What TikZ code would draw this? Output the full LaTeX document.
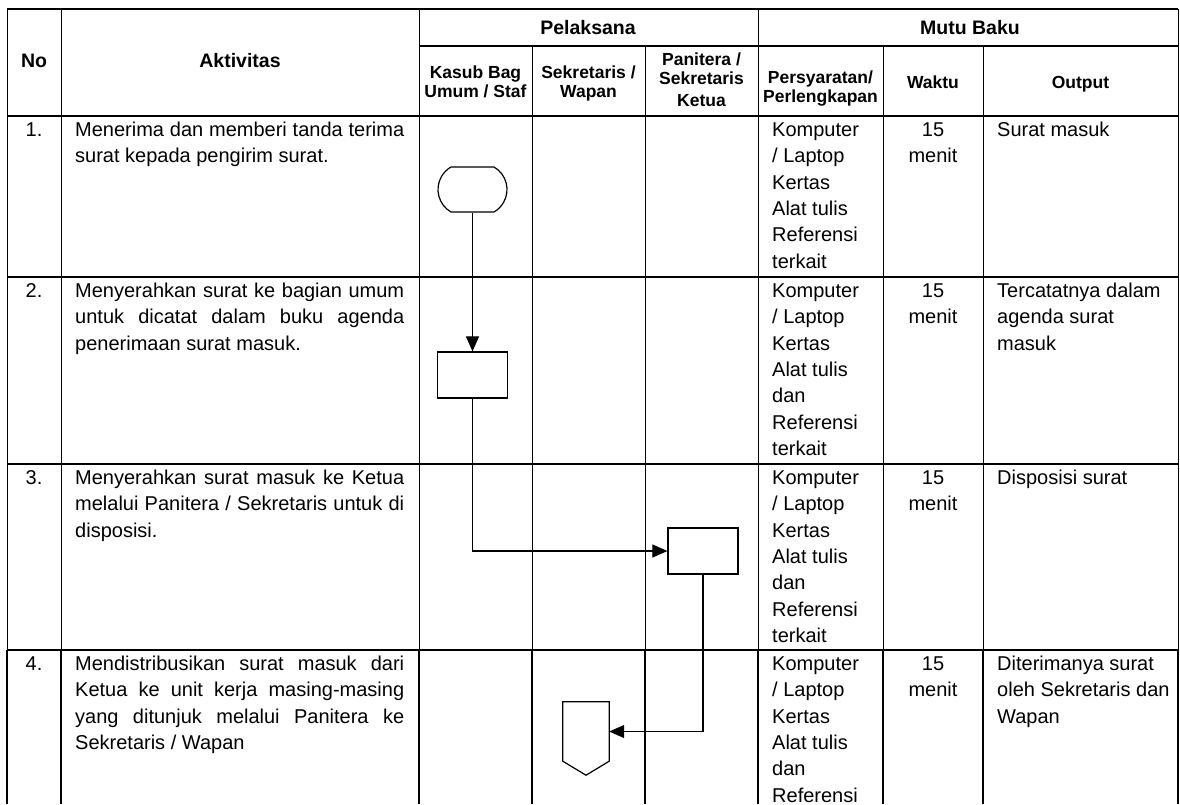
\documentclass[tikz,border=0pt]{standalone}
\usepackage{fontspec}
\setmainfont{Liberation Sans}
\usetikzlibrary{arrows.meta,shapes.misc}
\begin{document}
\begin{tikzpicture}[x=1pt,y=-1pt,>={Triangle[width=13pt,length=15pt]},
    rowline/.style={line width=1.5pt},
    colline/.style={line width=1pt},
    mainhead/.style={font=\bfseries\fontsize{19.5}{21}\selectfont,inner sep=0pt,anchor=base},
    subhead/.style={font=\bfseries\fontsize{17.5}{19}\selectfont,inner sep=0pt,align=center,anchor=north},
    celltext/.style={font=\fontsize{20}{26.3}\selectfont,inner sep=0pt,anchor=north west},
    flowbox/.style={draw,line width=1.2pt,minimum width=70pt,minimum height=46pt,inner sep=0pt},
    flowline/.style={->,line width=1.1pt}]
\useasboundingbox (0,0) rectangle (1180,804);
\draw[rowline](7,9)--(1178,9);
\draw[rowline](419,46)--(1178,46);
\foreach \y in {116,277,464,650} \draw[rowline](7,\y)--(1178,\y);
\foreach \x in {7,61,419,758,1178} \draw[colline](\x,9)--(\x,650);
\foreach \x in {532,645,883,983} \draw[colline](\x,46)--(\x,650);
\foreach \x in {7,61,419,532,645,758,883,983,1178} \draw[rowline](\x,650)--(\x,804);
\node[mainhead] (no) at (34,67) {No};
\node[mainhead] (aktivitas) at (240,67) {Aktivitas};
\node[mainhead] (pelaksana) at (588,34) {Pelaksana};
\node[mainhead] (mutubaku) at (970,34) {Mutu Baku};
\node[subhead] (kasub) at (475.5,64.7) {\strut Kasub Bag\\Umum / Staf};
\node[subhead] (sekretaris) at (588.5,64.7) {\strut Sekretaris /\\Wapan};
\node[subhead] (panitera) at (701.5,51.7) {\strut Panitera /\\Sekretaris\\[3pt]Ketua};
\node[subhead] (persyaratan) at (820.5,69.7) {\strut Persyaratan/\\Perlengkapan};
\node[subhead,anchor=base] (waktu) at (933,88) {Waktu};
\node[subhead,anchor=base] (output) at (1080.5,88) {Output};
\foreach \r/\y in {1/116,2/277,3/464,4/650}{
    \node[celltext,anchor=north] (no\r) at (34,\y+2) {\strut\r.};
    \node[celltext,anchor=north,align=center] (waktu\r) at (933,\y+2) {\strut 15\\menit};
}
\node[celltext,text width=329pt,align=justify] (akt1) at (75,118) {\strut Menerima dan memberi tanda terima\linebreak surat kepada pengirim surat.};
\node[celltext,text width=329pt,align=justify] (akt2) at (75,279) {\strut Menyerahkan surat ke bagian umum\linebreak untuk dicatat dalam buku agenda\linebreak penerimaan surat masuk.};
\node[celltext,text width=329pt,align=justify] (akt3) at (75,466) {\strut Menyerahkan surat masuk ke Ketua\linebreak melalui Panitera / Sekretaris untuk di\linebreak disposisi.};
\node[celltext,text width=329pt,align=justify] (akt4) at (75,652) {\strut Mendistribusikan surat masuk dari\linebreak Ketua ke unit kerja masing-masing\linebreak yang ditunjuk melalui Panitera ke\linebreak Sekretaris / Wapan};
\node[celltext,align=left] (pers1) at (772,118) {\strut Komputer\\/ Laptop\\Kertas\\Alat tulis\\Referensi\\terkait};
\node[celltext,align=left] (pers2) at (772,279) {\strut Komputer\\/ Laptop\\Kertas\\Alat tulis\\dan\\Referensi\\terkait};
\node[celltext,align=left] (pers3) at (772,466) {\strut Komputer\\/ Laptop\\Kertas\\Alat tulis\\dan\\Referensi\\terkait};
\node[celltext,align=left] (pers4) at (772,652) {\strut Komputer\\/ Laptop\\Kertas\\Alat tulis\\dan\\Referensi};
\node[celltext,align=left] (out1) at (997,118) {\strut Surat masuk};
\node[celltext,align=left] (out2) at (997,279) {\strut Tercatatnya dalam\\agenda surat\\masuk};
\node[celltext,align=left] (out3) at (997,466) {\strut Disposisi surat};
\node[celltext,align=left] (out4) at (997,652) {\strut Diterimanya surat\\oleh Sekretaris dan\\Wapan};
\node[flowbox,rounded rectangle,rounded rectangle arc length=120,minimum width=69pt,minimum height=45pt] (terima) at (472.5,189.5) {};
\node[flowbox] (catat) at (472.5,375) {};
\node[flowbox] (disposisi) at (703,551) {};
\node[minimum width=46pt,minimum height=59pt,inner sep=0pt] (distribusi) at (586,731.5) {};
\draw[line width=1.2pt](distribusi.north west)--(distribusi.north east)--(distribusi.south east)--([yshift=-14pt]distribusi.south)--(distribusi.south west)--cycle;
\draw[flowline](terima)--(catat);
\draw[flowline](catat.south)|-(disposisi.west);
\draw[flowline](disposisi.south)|-(distribusi.east);
\end{tikzpicture}
\end{document}
